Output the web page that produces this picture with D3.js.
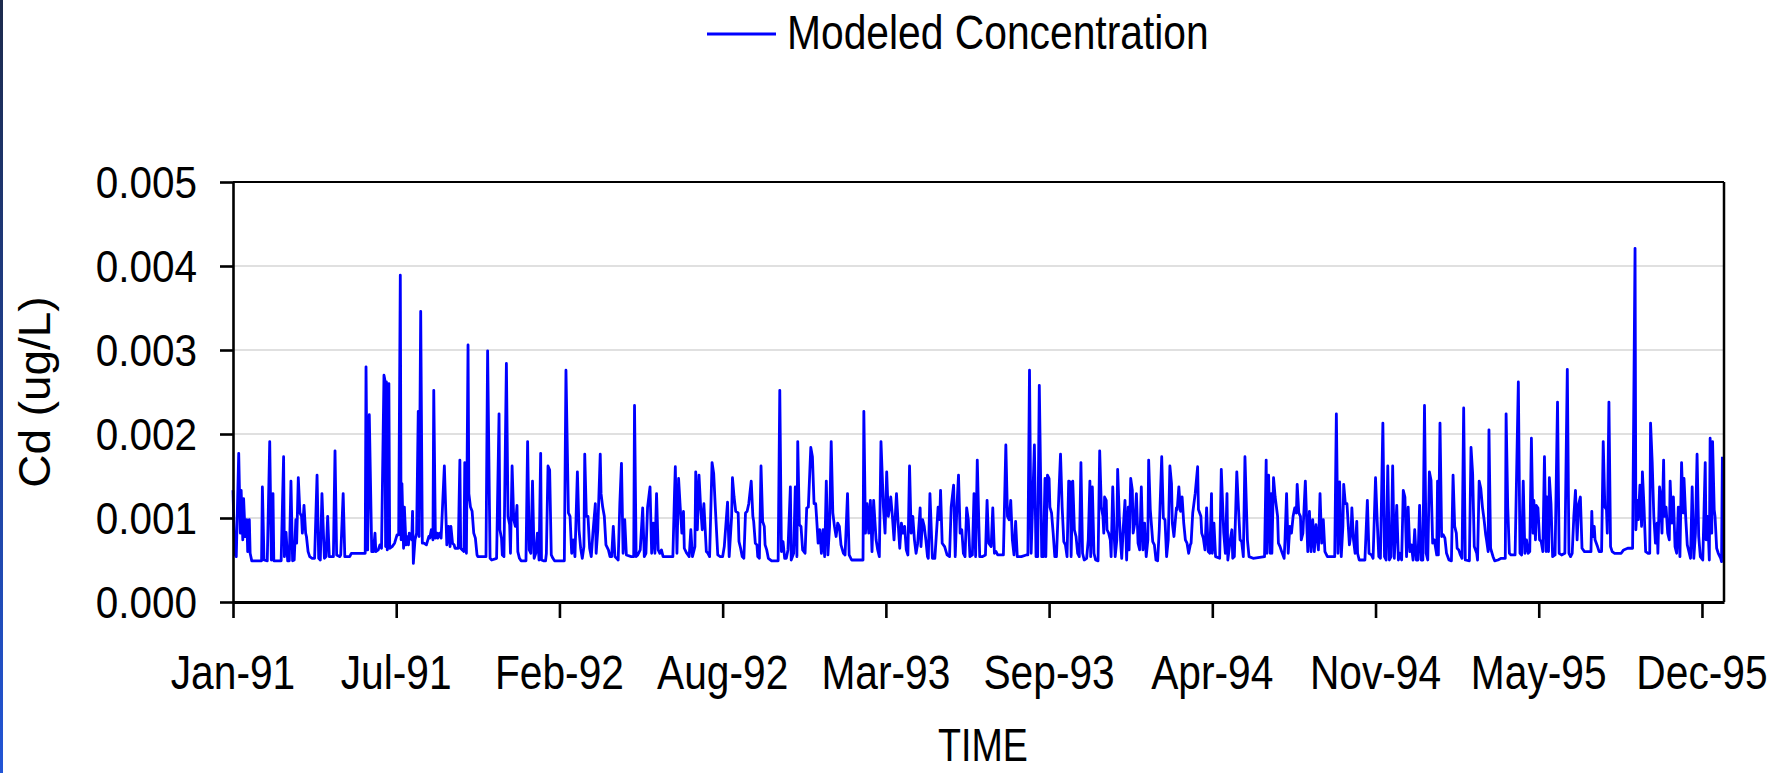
<!DOCTYPE html>
<html><head><meta charset="utf-8">
<script src="https://cdn.jsdelivr.net/npm/d3@7"></script>
<style>html,body{margin:0;padding:0;background:#fff;overflow:hidden}svg{display:block}</style>
</head><body>
<svg id="chart" width="1775" height="773"></svg>
<script>
// ---------------- data ----------------
const startDate = new Date(Date.UTC(1991, 0, 1));
const seriesName = "Modeled Concentration";
const xTitle = "TIME";
const yTitle = "Cd (ug/L)";
const xTickDays = [0, 200, 400, 600, 800, 1000, 1200, 1400, 1600, 1800];
const xTickLabels = ["Jan-91","Jul-91","Feb-92","Aug-92","Mar-93","Sep-93","Apr-94","Nov-94","May-95","Dec-95"];
const yTicks = [0, 0.001, 0.002, 0.003, 0.004, 0.005];
const yTickLabels = ["0.000","0.001","0.002","0.003","0.004","0.005"];
// [day since 1991-01-01, Cd ug/L]
const cdSeries = [
[0,0.00133],[2,0.00058],[4,0.00054],[7,0.00177],[9,0.00082],[10,0.00133],[12,0.00074],[13,0.00123],[15,0.00078],[17,0.00098],[18,0.00060],[20,0.00098],[21,0.00058],[23,0.00049],[35,0.00049],[36,0.00137],[38,0.00050],[42,0.00049],[45,0.00191],[47,0.00050],[49,0.00129],[50,0.00049],[59,0.00049],[62,0.00173],[63,0.00054],[65,0.00083],[67,0.00049],[69,0.00049],[71,0.00144],[73,0.00049],[75,0.00050],[77,0.00098],[78,0.00070],[80,0.00148],[82,0.00106],[84,0.00102],[85,0.00082],[87,0.00115],[89,0.00082],[90,0.00078],[92,0.00060],[94,0.00054],[97,0.00052],[100,0.00052],[103,0.00151],[105,0.00052],[107,0.00050],[109,0.00129],[112,0.00052],[114,0.00054],[116,0.00102],[118,0.00054],[123,0.00054],[125,0.00180],[127,0.00056],[131,0.00054],[132,0.00056],[135,0.00129],[137,0.00054],[143,0.00054],[145,0.00058],[159,0.00058],[162,0.00058],[163,0.00280],[165,0.00062],[167,0.00223],[170,0.00060],[172,0.00060],[174,0.00082],[175,0.00060],[178,0.00062],[180,0.00068],[182,0.00064],[185,0.00270],[186,0.00265],[187,0.00066],[188,0.00262],[189,0.00062],[191,0.00260],[192,0.00064],[195,0.00066],[198,0.00070],[201,0.00080],[203,0.00080],[205,0.00389],
[206,0.00074],[207,0.00141],[209,0.00064],[210,0.00113],[212,0.00068],[213,0.00078],[215,0.00068],[216,0.00082],[219,0.00074],[220,0.00108],[221,0.00046],[223,0.00074],[225,0.00082],[227,0.00227],[228,0.00078],[230,0.00346],[232,0.00070],[234,0.00070],[237,0.00068],[240,0.00078],[241,0.00076],[243,0.00086],[245,0.00074],[246,0.00252],[248,0.00076],[250,0.00082],[251,0.00076],[253,0.00082],[255,0.00076],[259,0.00162],[262,0.00068],[264,0.00090],[266,0.00066],[267,0.00090],[269,0.00070],[271,0.00068],[272,0.00064],[276,0.00064],[278,0.00169],[279,0.00064],[281,0.00062],[283,0.00060],[284,0.00166],[286,0.00058],[288,0.00306],[289,0.00129],[291,0.00113],[293,0.00108],[295,0.00082],[297,0.00076],[299,0.00056],[300,0.00054],[310,0.00054],[312,0.00299],[315,0.00052],[317,0.00050],[323,0.00052],[326,0.00224],[327,0.00086],[329,0.00076],[330,0.00056],[332,0.00054],[335,0.00284],[337,0.00102],[339,0.00092],[340,0.00058],[342,0.00162],[344,0.00098],[346,0.00090],[348,0.00115],[349,0.00060],[351,0.00052],[353,0.00049],[359,0.00049],[361,0.00191],[363,0.00062],[365,0.00058],[367,0.00144],[369,0.00052],[371,0.00058],[373,0.00082],[375,0.00050],[377,0.00177],[378,0.00050],[381,0.00049],[383,0.00049],[384,0.00058],[386,0.00162],[388,0.00157],[390,0.00056],[392,0.00052],[394,0.00049],[406,0.00049],[408,0.00276],[411,0.00106],[413,0.00102],[415,0.00058],
[417,0.00074],[419,0.00054],[422,0.00155],[424,0.00086],[426,0.00064],[428,0.00052],[430,0.00066],[431,0.00176],[433,0.00102],[435,0.00102],[437,0.00064],[439,0.00054],[441,0.00082],[444,0.00117],[445,0.00058],[447,0.00086],[450,0.00176],[451,0.00129],[453,0.00113],[455,0.00102],[457,0.00068],[460,0.00062],[462,0.00054],[464,0.00054],[466,0.00090],[468,0.00054],[470,0.00052],[472,0.00050],[474,0.00117],[476,0.00165],[478,0.00058],[480,0.00098],[482,0.00056],[488,0.00054],[491,0.00054],[492,0.00234],[494,0.00054],[496,0.00056],[499,0.00062],[502,0.00112],[504,0.00054],[506,0.00058],[508,0.00113],[511,0.00137],[513,0.00058],[515,0.00094],[517,0.00058],[519,0.00129],[521,0.00062],[523,0.00058],[525,0.00062],[527,0.00054],[539,0.00054],[541,0.00129],[542,0.00161],[544,0.00058],[546,0.00147],[548,0.00113],[550,0.00082],[552,0.00108],[553,0.00064],[556,0.00058],[559,0.00054],[561,0.00086],[563,0.00054],[566,0.00066],[567,0.00155],[569,0.00086],[571,0.00151],[573,0.00113],[575,0.00086],[577,0.00117],[580,0.00060],[582,0.00058],[584,0.00054],[587,0.00166],[589,0.00153],[591,0.00113],[594,0.00056],[597,0.00054],[600,0.00054],[602,0.00066],[606,0.00119],[608,0.00054],[611,0.00102],[612,0.00148],[614,0.00125],[616,0.00108],
[619,0.00106],[620,0.00072],[622,0.00064],[624,0.00054],[626,0.00052],[628,0.00106],[630,0.00108],[632,0.00117],[635,0.00144],[637,0.00102],[638,0.00096],[640,0.00070],[642,0.00068],[643,0.00054],[645,0.00052],[647,0.00162],[649,0.00096],[651,0.00090],[652,0.00068],[654,0.00062],[656,0.00052],[660,0.00049],[668,0.00049],[670,0.00252],[672,0.00060],[674,0.00072],[676,0.00052],[678,0.00052],[680,0.00062],[683,0.00137],[684,0.00050],[687,0.00058],[689,0.00137],[691,0.00054],[692,0.00191],[694,0.00092],[696,0.00090],[698,0.00062],[701,0.00058],[703,0.00112],[705,0.00113],[708,0.00184],[710,0.00173],[712,0.00117],[714,0.00117],[715,0.00102],[717,0.00070],[719,0.00086],[721,0.00058],[723,0.00086],[725,0.00054],[727,0.00144],[729,0.00056],[731,0.00090],[733,0.00191],[735,0.00106],[737,0.00090],[739,0.00078],[741,0.00094],[743,0.00090],[745,0.00068],[748,0.00058],[750,0.00056],[753,0.00129],[755,0.00056],[758,0.00050],[772,0.00050],[773,0.00227],[775,0.00082],[777,0.00117],[779,0.00082],[781,0.00121],[783,0.00060],[785,0.00121],[788,0.00074],[790,0.00062],[792,0.00054],[794,0.00191],[797,0.00113],[799,0.00082],[801,0.00155],[803,0.00102],[806,0.00125],[808,0.00102],[810,0.00074],[813,0.00129],[815,0.00094],[817,0.00064],[819,0.00094],[821,0.00082],[823,0.00090],[825,0.00062],[827,0.00056],[829,0.00162],[831,0.00082],
[833,0.00102],[835,0.00074],[837,0.00058],[839,0.00070],[842,0.00112],[843,0.00066],[845,0.00098],[847,0.00090],[849,0.00074],[851,0.00054],[852,0.00052],[854,0.00129],[857,0.00052],[860,0.00052],[862,0.00082],[864,0.00113],[866,0.00098],[867,0.00133],[869,0.00070],[872,0.00066],[875,0.00056],[878,0.00054],[880,0.00113],[883,0.00139],[885,0.00054],[887,0.00112],[889,0.00151],[891,0.00082],[893,0.00086],[895,0.00058],[897,0.00054],[899,0.00112],[901,0.00098],[903,0.00054],[906,0.00056],[908,0.00129],[910,0.00054],[912,0.00169],[914,0.00090],[915,0.00054],[918,0.00054],[922,0.00056],[924,0.00121],[926,0.00070],[929,0.00066],[931,0.00112],[933,0.00058],[935,0.00060],[937,0.00056],[944,0.00056],[947,0.00187],[949,0.00102],[951,0.00098],[953,0.00121],[955,0.00074],[957,0.00056],[959,0.00096],[961,0.00054],[966,0.00054],[972,0.00056],[974,0.00056],[976,0.00276],[978,0.00058],[982,0.00187],[984,0.00054],[986,0.00054],[988,0.00258],[991,0.00054],[993,0.00054],[995,0.00147],[996,0.00054],[998,0.00151],[1000,0.00147],[1001,0.00113],[1003,0.00106],[1005,0.00082],[1007,0.00054],[1009,0.00054],[1012,0.00129],[1014,0.00176],[1016,0.00113],[1018,0.00072],[1020,0.00068],[1022,0.00054],[1024,0.00144],[1026,0.00143],[1027,0.00054],[1029,0.00144],[1031,0.00086],[1033,0.00078],[1035,0.00058],[1037,0.00054],[1039,0.00166],
[1041,0.00058],[1043,0.00050],[1046,0.00052],[1048,0.00074],[1050,0.00144],[1051,0.00054],[1053,0.00137],[1055,0.00058],[1057,0.00050],[1060,0.00049],[1062,0.00180],[1064,0.00113],[1066,0.00102],[1067,0.00082],[1068,0.00125],[1070,0.00121],[1071,0.00086],[1073,0.00082],[1075,0.00074],[1076,0.00054],[1078,0.00137],[1080,0.00074],[1081,0.00054],[1083,0.00074],[1084,0.00158],[1086,0.00102],[1088,0.00066],[1089,0.00052],[1091,0.00090],[1093,0.00121],[1095,0.00050],[1097,0.00113],[1098,0.00062],[1100,0.00147],[1102,0.00133],[1103,0.00082],[1105,0.00094],[1107,0.00129],[1109,0.00070],[1111,0.00062],[1113,0.00137],[1115,0.00062],[1117,0.00094],[1119,0.00054],[1121,0.00074],[1122,0.00169],[1124,0.00110],[1127,0.00072],[1129,0.00068],[1131,0.00050],[1133,0.00049],[1135,0.00086],[1138,0.00173],[1140,0.00100],[1142,0.00098],[1144,0.00054],[1146,0.00074],[1148,0.00162],[1150,0.00141],[1151,0.00094],[1153,0.00078],[1156,0.00112],[1157,0.00110],[1159,0.00137],[1161,0.00108],[1163,0.00125],[1165,0.00094],[1167,0.00074],[1169,0.00070],[1171,0.00058],[1173,0.00068],[1174,0.00070],[1176,0.00106],[1179,0.00129],[1182,0.00161],[1183,0.00110],[1186,0.00102],[1187,0.00082],[1189,0.00076],[1191,0.00062],[1193,0.00112],[1195,0.00060],[1197,0.00058],[1199,0.00129],[1200,0.00058],[1202,0.00094],[1204,0.00054],[1209,0.00052],[1211,0.00158],[1214,0.00082],[1216,0.00058],[1218,0.00129],[1219,0.00050],[1222,0.00074],[1224,0.00086],[1225,0.00052],[1227,0.00054],[1230,0.00155],[1232,0.00113],[1234,0.00074],[1236,0.00072],[1238,0.00054],[1240,0.00173],[1243,0.00074],[1245,0.00054],[1250,0.00052],
[1264,0.00054],[1266,0.00169],[1267,0.00058],[1269,0.00151],[1271,0.00058],[1272,0.00129],[1273,0.00058],[1275,0.00148],[1277,0.00125],[1280,0.00102],[1281,0.00070],[1283,0.00066],[1285,0.00060],[1288,0.00052],[1289,0.00072],[1291,0.00129],[1293,0.00058],[1295,0.00090],[1297,0.00082],[1299,0.00102],[1301,0.00112],[1303,0.00106],[1304,0.00140],[1306,0.00106],[1308,0.00102],[1309,0.00074],[1311,0.00082],[1314,0.00144],[1316,0.00086],[1317,0.00060],[1319,0.00108],[1321,0.00060],[1323,0.00098],[1325,0.00060],[1327,0.00092],[1330,0.00062],[1332,0.00129],[1334,0.00070],[1336,0.00098],[1338,0.00060],[1341,0.00054],[1350,0.00054],[1352,0.00224],[1354,0.00058],[1356,0.00143],[1358,0.00054],[1360,0.00090],[1361,0.00140],[1363,0.00117],[1365,0.00117],[1368,0.00068],[1370,0.00082],[1371,0.00112],[1373,0.00074],[1375,0.00058],[1377,0.00096],[1378,0.00058],[1380,0.00050],[1387,0.00050],[1390,0.00121],[1392,0.00058],[1395,0.00056],[1397,0.00052],[1400,0.00148],[1402,0.00098],[1404,0.00054],[1406,0.00052],[1409,0.00213],[1411,0.00054],[1413,0.00050],[1415,0.00162],[1417,0.00050],[1419,0.00054],[1421,0.00162],[1423,0.00052],[1426,0.00115],[1428,0.00050],[1430,0.00058],[1432,0.00050],[1434,0.00133],[1436,0.00125],[1438,0.00054],[1440,0.00113],[1442,0.00060],[1444,0.00068],[1446,0.00050],[1448,0.00086],[1450,0.00050],[1452,0.00050],
[1454,0.00115],[1456,0.00050],[1458,0.00050],[1460,0.00234],[1462,0.00058],[1464,0.00050],[1466,0.00155],[1468,0.00145],[1470,0.00070],[1472,0.00074],[1475,0.00056],[1476,0.00144],[1477,0.00056],[1479,0.00213],[1481,0.00078],[1483,0.00080],[1485,0.00076],[1487,0.00058],[1490,0.00050],[1493,0.00049],[1495,0.00151],[1497,0.00090],[1499,0.00082],[1500,0.00064],[1502,0.00062],[1504,0.00056],[1506,0.00052],[1508,0.00231],[1510,0.00050],[1515,0.00049],[1517,0.00184],[1519,0.00153],[1521,0.00066],[1524,0.00058],[1525,0.00050],[1527,0.00144],[1529,0.00135],[1531,0.00113],[1533,0.00098],[1535,0.00080],[1536,0.00074],[1538,0.00060],[1539,0.00205],[1541,0.00064],[1544,0.00054],[1546,0.00049],[1550,0.00050],[1554,0.00052],[1559,0.00052],[1560,0.00224],[1562,0.00113],[1564,0.00058],[1566,0.00056],[1571,0.00056],[1575,0.00262],[1577,0.00058],[1579,0.00056],[1581,0.00144],[1583,0.00058],[1585,0.00074],[1587,0.00058],[1589,0.00060],[1591,0.00195],[1593,0.00082],[1594,0.00121],[1596,0.00074],[1597,0.00115],[1599,0.00112],[1601,0.00074],[1603,0.00072],[1605,0.00060],[1607,0.00173],[1609,0.00060],[1610,0.00125],[1612,0.00060],[1613,0.00148],[1615,0.00117],[1617,0.00054],[1620,0.00056],[1623,0.00238],[1625,0.00058],[1628,0.00056],[1632,0.00058],[1635,0.00277],[1637,0.00058],[1639,0.00054],[1641,0.00058],[1643,0.00102],[1645,0.00133],[1647,0.00074],[1649,0.00117],[1651,0.00125],[1653,0.00064],[1656,0.00060],[1664,0.00060],
[1665,0.00108],[1666,0.00078],[1668,0.00090],[1669,0.00074],[1672,0.00066],[1674,0.00060],[1677,0.00060],[1679,0.00191],[1681,0.00113],[1683,0.00110],[1684,0.00082],[1686,0.00238],[1688,0.00066],[1690,0.00060],[1693,0.00058],[1701,0.00058],[1704,0.00062],[1709,0.00064],[1715,0.00064],[1718,0.00421],[1719,0.00086],[1721,0.00121],[1722,0.00098],[1724,0.00139],[1726,0.00090],[1727,0.00155],[1729,0.00113],[1731,0.00060],[1734,0.00058],[1736,0.00058],[1737,0.00213],[1739,0.00167],[1741,0.00102],[1743,0.00070],[1745,0.00094],[1746,0.00058],[1748,0.00137],[1749,0.00129],[1751,0.00082],[1753,0.00169],[1754,0.00102],[1756,0.00113],[1758,0.00082],[1760,0.00074],[1761,0.00144],[1763,0.00094],[1765,0.00125],[1767,0.00066],[1769,0.00058],[1771,0.00113],[1773,0.00054],[1775,0.00166],[1777,0.00106],[1778,0.00147],[1780,0.00102],[1782,0.00068],[1784,0.00060],[1786,0.00052],[1788,0.00137],[1790,0.00052],[1792,0.00082],[1794,0.00176],[1796,0.00078],[1798,0.00054],[1801,0.00050],[1804,0.00166],[1805,0.00074],[1807,0.00102],[1809,0.00050],[1810,0.00195],[1812,0.00082],[1813,0.00191],[1815,0.00110],[1816,0.00102],[1818,0.00064],[1820,0.00058],[1823,0.00052],[1824,0.00048],[1825,0.00173]
];

// ---------------- layout ----------------
const plot = {left: 233, right: 1724, top: 182, bottom: 602};
const FONT = "'Liberation Sans', Arial, Helvetica, sans-serif";
const svg = d3.select("#chart");
svg.append("rect").attr("width", 1775).attr("height", 773).attr("fill", "#fff");

// left edge strip
const defs = svg.append("defs");
const lg = defs.append("linearGradient").attr("id", "edge").attr("x1", 0).attr("y1", 0).attr("x2", 0).attr("y2", 1);
lg.append("stop").attr("offset", "0%").attr("stop-color", "#1c2a4c");
lg.append("stop").attr("offset", "100%").attr("stop-color", "#2255d6");
svg.append("rect").attr("x", 0).attr("y", 0).attr("width", 3).attr("height", 773).attr("fill", "url(#edge)");

const dayToDate = d => d3.utcDay.offset(startDate, d);
const x = d3.scaleUtc().domain([startDate, dayToDate(1827)]).range([plot.left, plot.right]);
const y = d3.scaleLinear().domain([0, 0.005]).range([plot.bottom, plot.top]);

function label(txt, px, py, size, sx, anchor, rotate) {
  const g = svg.append("g").attr("transform", `translate(${px},${py})` + (rotate ? ` rotate(${rotate})` : "") + ` scale(${sx},1)`);
  g.append("text").attr("x", 0).attr("y", 0).attr("text-anchor", anchor)
    .attr("font-family", FONT).attr("font-size", size).attr("fill", "#000").text(txt);
  return g;
}

// gridlines
svg.append("g").selectAll("line").data(yTicks.filter(v => v > 0 && v < 0.005)).join("line")
  .attr("x1", plot.left).attr("x2", plot.right)
  .attr("y1", d => y(d)).attr("y2", d => y(d))
  .attr("stroke", "#d6d6d6").attr("stroke-width", 1.5);

// series line
const line = d3.line().x(d => x(dayToDate(d[0]))).y(d => y(d[1]));
svg.append("path").datum(cdSeries).attr("d", line)
  .attr("fill", "none").attr("stroke", "#0000ff").attr("stroke-width", 2.8)
  .attr("stroke-linejoin", "round");

// plot border (top, right)
svg.append("line").attr("x1", plot.left).attr("x2", plot.right).attr("y1", plot.top).attr("y2", plot.top)
  .attr("stroke", "#000").attr("stroke-width", 2);
svg.append("line").attr("x1", plot.right).attr("x2", plot.right).attr("y1", plot.top).attr("y2", plot.bottom)
  .attr("stroke", "#000").attr("stroke-width", 2.5);

// axes
const yAxis = d3.axisLeft(y).tickValues(yTicks).tickSize(13).tickSizeOuter(0).tickFormat("");
const gy = svg.append("g").attr("transform", `translate(${plot.left},0)`).call(yAxis);
gy.selectAll("path,line").attr("stroke", "#000").attr("stroke-width", 2.6);

const xAxis = d3.axisBottom(x).tickValues(xTickDays.map(dayToDate)).tickSize(16).tickSizeOuter(0).tickFormat("");
const gx = svg.append("g").attr("transform", `translate(0,${plot.bottom})`).call(xAxis);
gx.selectAll("path,line").attr("stroke", "#000").attr("stroke-width", 2.6);
gx.select("path").attr("stroke-width", 3);

// tick labels
yTicks.forEach((v, i) => label(yTickLabels[i], 197, y(v) + 16, 45, 0.9, "end"));
xTickDays.forEach((d, i) => label(xTickLabels[i], x(dayToDate(d)), 689, 48.5, 0.84, "middle"));

// titles
label(xTitle, 983, 761, 47, 0.8, "middle");
label(yTitle, 50, 392, 45, 1.02, "middle", -90);

// legend
svg.append("line").attr("x1", 707).attr("x2", 776).attr("y1", 34).attr("y2", 34)
  .attr("stroke", "#0000ff").attr("stroke-width", 3);
label(seriesName, 787, 49, 48, 0.85, "start");
</script>
</body></html>
